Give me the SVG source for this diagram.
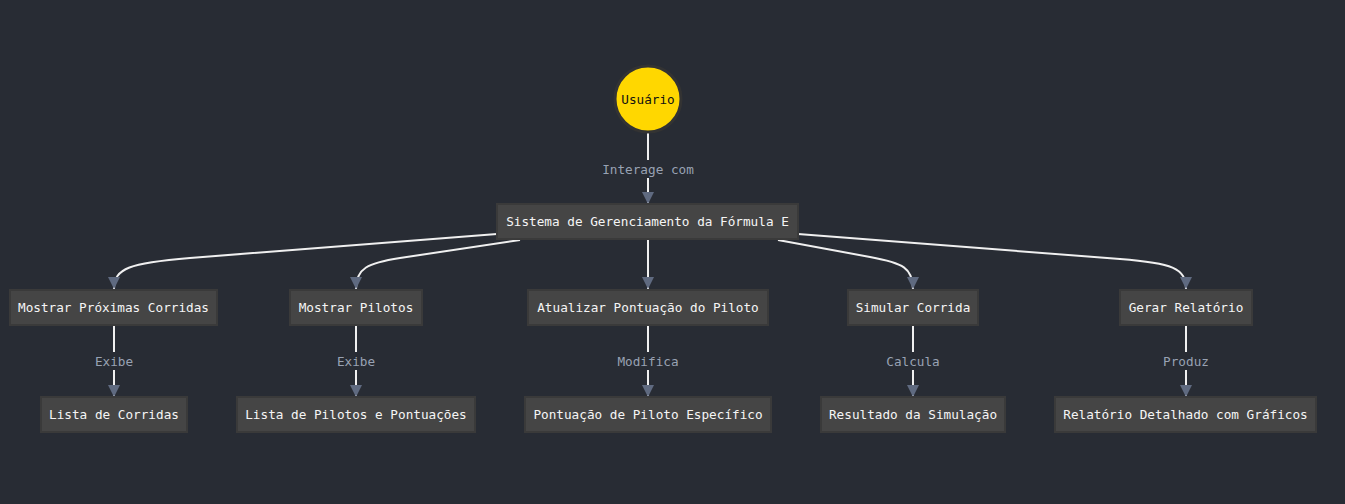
<svg xmlns="http://www.w3.org/2000/svg" width="1345" height="504" viewBox="0 0 1345 504">
<style>
.bg{fill:#282c34}
.box{fill:#454545;stroke:#3a3a3a;stroke-width:2}
.t{font-family:"DejaVu Sans Mono","Liberation Mono",monospace;font-size:12.7px;fill:#f5f5f5;text-anchor:middle;dominant-baseline:central}
.e{fill:none;stroke:#f0f0f0;stroke-width:2}
.lbl{font-family:"DejaVu Sans Mono","Liberation Mono",monospace;font-size:12.7px;fill:#98a2b3;text-anchor:middle;dominant-baseline:central}
.lb{fill:#282c34}
</style>
<defs>
<marker id="arr" viewBox="0 0 12 12" refX="12" refY="6" markerWidth="12" markerHeight="12" markerUnits="userSpaceOnUse" orient="auto">
<path d="M0,0 L12,6 L0,12 z" fill="#5f6a80"/>
</marker>
</defs>
<rect class="bg" x="0" y="0" width="1345" height="504"/>
<g id="connectors">
<path class="e" d="M648,131 L648,204" marker-end="url(#arr)"/>
<path class="e" d="M497,234 L190,258 C130,263 114,268 114,289" marker-end="url(#arr)"/>
<path class="e" d="M520,240 L400,258 C368,263 356,268 356,289" marker-end="url(#arr)"/>
<path class="e" d="M648,239 L648,289" marker-end="url(#arr)"/>
<path class="e" d="M778,240 L870,257 C903,263 913,268 913,289" marker-end="url(#arr)"/>
<path class="e" d="M798,234 L1120,259 C1172,263 1186,268 1186,289" marker-end="url(#arr)"/>
<path class="e" d="M114,326 L114,397" marker-end="url(#arr)"/>
<path class="e" d="M356,326 L356,397" marker-end="url(#arr)"/>
<path class="e" d="M648,326 L648,397" marker-end="url(#arr)"/>
<path class="e" d="M913,326 L913,397" marker-end="url(#arr)"/>
<path class="e" d="M1186,326 L1186,397" marker-end="url(#arr)"/>
<rect class="lb" x="600" y="160" width="96" height="18"/>
<text class="lbl" x="648" y="169">Interage com</text>
<rect class="lb" x="92" y="352" width="44" height="18"/>
<text class="lbl" x="114" y="361">Exibe</text>
<rect class="lb" x="334" y="352" width="44" height="18"/>
<text class="lbl" x="356" y="361">Exibe</text>
<rect class="lb" x="614" y="352" width="68" height="18"/>
<text class="lbl" x="648" y="361">Modifica</text>
<rect class="lb" x="883" y="352" width="60" height="18"/>
<text class="lbl" x="913" y="361">Calcula</text>
<rect class="lb" x="1160" y="352" width="52" height="18"/>
<text class="lbl" x="1186" y="361">Produz</text>
</g>
<g id="usuario">
<circle cx="648" cy="99" r="33" fill="#ffd700" stroke="#333333" stroke-width="3"/>
<text class="t" x="648" y="99" style="fill:#111">Usuário</text>
</g>
<g id="sistema">
<rect class="box" x="497" y="204" width="301" height="35"/>
<text class="t" x="647.5" y="221.5">Sistema de Gerenciamento da Fórmula E</text>
</g>
<g id="mostrarCorridas">
<rect class="box" x="10" y="290" width="207" height="35"/>
<text class="t" x="113.5" y="307.5">Mostrar Próximas Corridas</text>
</g>
<g id="mostrarPilotos">
<rect class="box" x="290" y="290" width="132" height="35"/>
<text class="t" x="356" y="307.5">Mostrar Pilotos</text>
</g>
<g id="atualizar">
<rect class="box" x="528" y="290" width="240" height="35"/>
<text class="t" x="648" y="307.5">Atualizar Pontuação do Piloto</text>
</g>
<g id="simular">
<rect class="box" x="848" y="290" width="130" height="35"/>
<text class="t" x="913" y="307.5">Simular Corrida</text>
</g>
<g id="gerar">
<rect class="box" x="1120" y="290" width="132" height="35"/>
<text class="t" x="1186" y="307.5">Gerar Relatório</text>
</g>
<g id="listaCorridas">
<rect class="box" x="41" y="397" width="146" height="35"/>
<text class="t" x="114" y="414.5">Lista de Corridas</text>
</g>
<g id="listaPilotos">
<rect class="box" x="237" y="397" width="238" height="35"/>
<text class="t" x="356" y="414.5">Lista de Pilotos e Pontuações</text>
</g>
<g id="pontuacao">
<rect class="box" x="525" y="397" width="246" height="35"/>
<text class="t" x="648" y="414.5">Pontuação de Piloto Específico</text>
</g>
<g id="resultado">
<rect class="box" x="821" y="397" width="184" height="35"/>
<text class="t" x="913" y="414.5">Resultado da Simulação</text>
</g>
<g id="relatorio">
<rect class="box" x="1055" y="397" width="261" height="35"/>
<text class="t" x="1185.5" y="414.5">Relatório Detalhado com Gráficos</text>
</g>
</svg>
